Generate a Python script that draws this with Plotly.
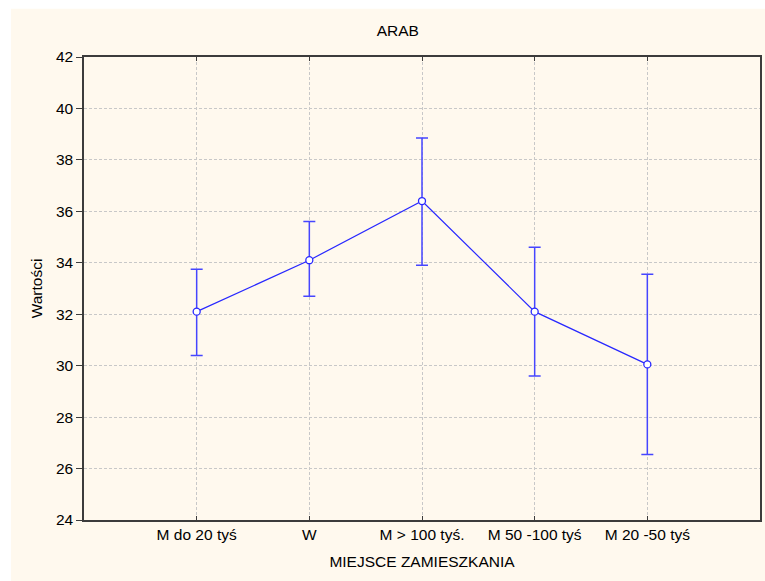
import plotly.graph_objects as go

# Data
categories = ["M do 20 tyś", "W", "M > 100 tyś.", "M 50 -100 tyś", "M 20 -50 tyś"]
means = [32.1, 34.1, 36.4, 32.1, 30.05]
upper = [33.75, 35.6, 38.85, 34.6, 33.55]
lower = [30.4, 32.7, 33.9, 29.6, 26.55]

err_plus = [u - m for u, m in zip(upper, means)]
err_minus = [m - l for m, l in zip(means, lower)]

BLUE = "#2828ff"
BG_CREAM = "#FFF9EE"
GRID = "#C8C8C8"
FRAME = "#3c3c3c"
FONT_SIZE = 15.5

fig = go.Figure()
fig.add_trace(go.Scatter(
    x = categories,
    y = means,
    mode = "lines+markers",
    line = dict(color = BLUE, width = 1.2),
    marker = dict(symbol = "circle", size = 7, color = "white",
                  line = dict(color = BLUE, width = 1.3)),
    error_y = dict(type = "data", symmetric = False,
                   array = err_plus, arrayminus = err_minus,
                   color = "#4646ff", thickness = 1.5, width = 6),
    showlegend = False,
))

# cream panel behind everything
fig.add_shape(
    type = "rect", xref = "paper", yref = "paper",
    x0 = -0.108, x1 = 1.02, y0 = -0.15, y1 = 1.104,
    fillcolor = BG_CREAM, line_width = 0, layer = "below",
)

fig.update_layout(
    width = 765, height = 581,
    margin = dict(l = 84, r = 3, t = 57, b = 61),
    paper_bgcolor = "white",
    plot_bgcolor = "white",
    font = dict(family = "Liberation Sans, Arial", size = FONT_SIZE, color = "black"),
    title = dict(text = "ARAB", x = 0.52, xref = "container", xanchor = "center",
                 y = 1 - 30.5 / 581, yref = "container", yanchor = "middle",
                 font = dict(size = FONT_SIZE)),
    xaxis = dict(
        type = "category",
        range = [-1, 5],
        showgrid = True, gridcolor = GRID, griddash = "3px,2px", gridwidth = 1,
        showline = True, linecolor = FRAME, linewidth = 1.5, mirror = "ticks",
        ticks = "inside", ticklen = 4, tickcolor = FRAME,
        title = dict(text = "MIEJSCE ZAMIESZKANIA", standoff = 14,
                     font = dict(size = FONT_SIZE)),
        zeroline = False,
    ),
    yaxis = dict(
        range = [24, 42], dtick = 2,
        showgrid = True, gridcolor = GRID, griddash = "3px,2px", gridwidth = 1,
        showline = True, linecolor = FRAME, linewidth = 1.5, mirror = True,
        ticks = "outside", ticklen = 6, tickcolor = FRAME,
        title = dict(text = "Wartości", standoff = 9,
                     font = dict(size = FONT_SIZE)),
        zeroline = False,
    ),
)

fig.write_html("out.html", config = {"displayModeBar": False},
               post_script = "document.body.style.margin = '0';")
